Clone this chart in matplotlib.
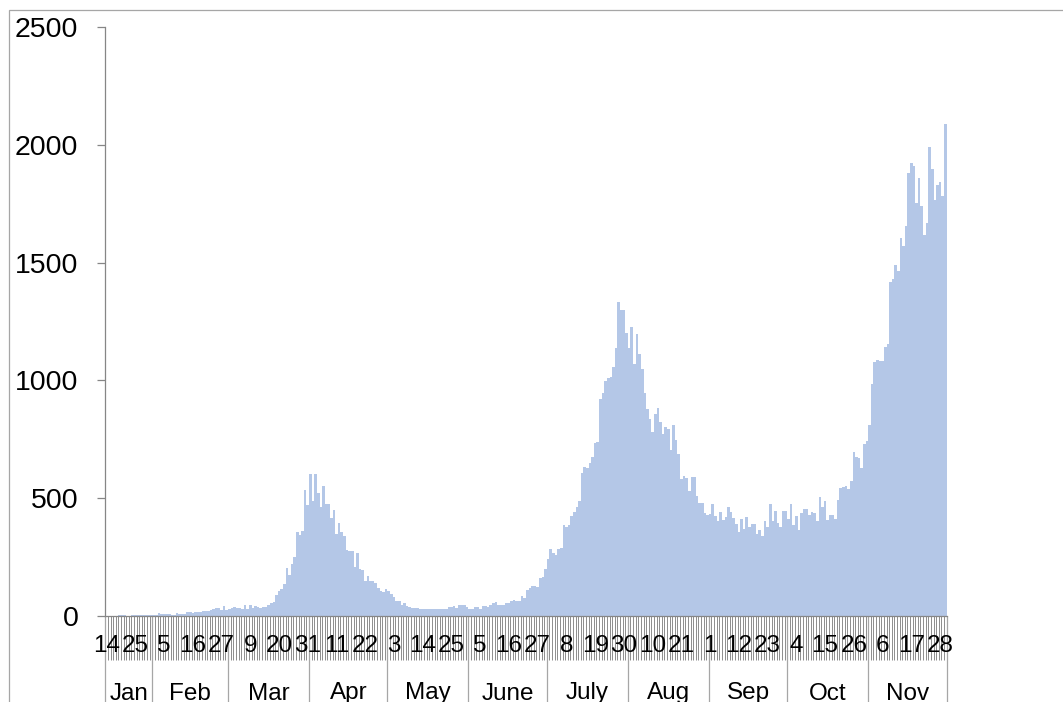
import numpy as np
import pandas as pd
import matplotlib
matplotlib.use("Agg")
import matplotlib.pyplot as plt
from matplotlib.patches import Rectangle

plt.rcParams['font.family'] = ['Liberation Sans', 'DejaVu Sans']

# ---- data: daily values, 14 Jan - 30 Nov 2020 ----
jan = [0, 0, 0, 0, 0, 1, 3, 1, 0, 0, 1, 1, 1, 1, 1, 2, 2, 4]
feb = [4, 4, 11, 6, 5, 6, 7, 4, 4, 10, 7, 6, 7, 16, 14, 13, 14, 17, 17, 20,
       21, 18, 25, 26, 31, 32, 24, 42, 25]
mar = [26, 31, 35, 34, 31, 30, 45, 28, 45, 31, 42, 35, 33, 36, 35, 45, 52, 57,
       89, 103, 113, 135, 203, 174, 220, 248, 354, 344, 361, 534, 470]
apr = [600, 489, 602, 521, 463, 551, 475, 475, 415, 449, 347, 395, 354, 340,
       279, 276, 274, 205, 268, 198, 194, 146, 167, 149, 146, 137, 116, 105,
       99, 113]
may = [103, 92, 81, 60, 60, 43, 52, 41, 38, 33, 34, 33, 30, 27, 28, 27, 27,
       28, 30, 30, 30, 30, 30, 38, 35, 41, 33, 43, 45, 47, 35]
jun = [30, 28, 38, 35, 28, 40, 41, 38, 47, 54, 58, 47, 44, 44, 52, 54, 64, 65,
       64, 61, 85, 74, 110, 116, 126, 126, 120, 159, 166, 198]
jul = [241, 281, 265, 259, 283, 288, 385, 378, 383, 425, 439, 461, 486, 605,
       633, 626, 648, 673, 733, 736, 921, 945, 996, 1010, 1013, 1056, 1138,
       1332, 1300, 1300, 1200]
aug = [1138, 1226, 1070, 1195, 1112, 1049, 947, 879, 836, 779, 855, 883, 822,
       770, 801, 794, 704, 812, 747, 685, 581, 592, 584, 529, 588, 591, 510,
       479, 478, 435, 428]
sep = [432, 475, 425, 401, 439, 407, 421, 463, 441, 415, 390, 354, 410, 366,
       421, 378, 390, 388, 347, 364, 339, 400, 378, 475, 404, 446, 395, 378,
       443, 446]
oct_ = [412, 475, 387, 425, 364, 435, 454, 454, 429, 442, 438, 401, 503, 463,
        485, 408, 428, 428, 410, 492, 543, 546, 550, 539, 571, 697, 676, 669,
        626, 730, 744]
nov = [812, 985, 1077, 1087, 1084, 1084, 1141, 1155, 1417, 1429, 1488, 1463,
       1604, 1570, 1655, 1881, 1925, 1910, 1753, 1861, 1739, 1618, 1670, 1991,
       1896, 1764, 1831, 1842, 1783, 2088]

month_names = ["Jan", "Feb", "Mar", "Apr", "May", "June", "July", "Aug",
               "Sep", "Oct", "Nov"]
month_values = [jan, feb, mar, apr, may, jun, jul, aug, sep, oct_, nov]

dates = pd.date_range("2020-01-14", "2020-11-30", freq="D")
values = np.concatenate([np.array(m, dtype=float) for m in month_values])
n = len(dates)
values = values[:n] if len(values) >= n else np.pad(values, (0, n - len(values)))
label_step = 11
yticks = [0, 500, 1000, 1500, 2000, 2500]

# ---- figure ----
W, H = 1063, 702
fig = plt.figure(figsize=(W / 100, H / 100), dpi=100)
left_px, right_px, top_px, bottom_px = 105.3, 946.6, 27.3, 615.6
ax = fig.add_axes([left_px / W, 1 - bottom_px / H,
                   (right_px - left_px) / W, (bottom_px - top_px) / H])

# outer chart-area border (cropped at right and bottom)
fig.patches.append(Rectangle((9 / W, -0.1), 1.2, 1 - 10 / H + 0.1,
                             transform=fig.transFigure, fill=False,
                             edgecolor="#a6a6a6", linewidth=0.9))

x = np.arange(n)
ax.bar(x, values, width=1.0, color="#b4c7e7", edgecolor="none", zorder=2)

ax.set_xlim(-0.5, n - 0.5)
ax.set_ylim(0, 2500)

axis_col = "#868686"
for s in ["top", "right"]:
    ax.spines[s].set_visible(False)
ax.spines["left"].set_color(axis_col)
ax.spines["bottom"].set_color(axis_col)
ax.spines["left"].set_linewidth(0.9)
ax.spines["bottom"].set_linewidth(0.9)

ax.set_yticks(yticks)
ax.set_yticklabels([str(v) for v in yticks], fontsize=20.5)
ax.tick_params(axis="y", length=5.8, width=0.9, color=axis_col, pad=13.5,
               direction="out")

# month boundaries (major ticks) & day ticks (minor)
months = dates.month.values
bounds = [-0.5] + [i - 0.5 for i in range(1, n) if months[i] != months[i - 1]] + [n - 0.5]
ax.set_xticks(bounds)
ax.set_xticklabels([""] * len(bounds))
ax.set_xticks(np.arange(-0.5, n, 1.0), minor=True)
ax.tick_params(axis="x", which="major", length=75, width=0.9, color="#a6a6a6",
               direction="out")
ax.tick_params(axis="x", which="minor", length=32, width=0.62, color="#7f7f7f",
               direction="out")

trans = ax.get_xaxis_transform()
px_to_ax = 1.0 / (bottom_px - top_px)
day_base = -(652.5 - bottom_px) * px_to_ax
for i in range(0, n, label_step):
    ax.text(i, day_base, str(dates[i].day), transform=trans, ha="center",
            va="baseline", fontsize=17.5, color="black", clip_on=False)

month_base = -(699.5 - bottom_px) * px_to_ax
for k, name in enumerate(month_names):
    c = (bounds[k] + bounds[k + 1]) / 2
    ax.text(c, month_base, name, transform=trans, ha="center", va="baseline",
            fontsize=17.5, color="black", clip_on=False)

fig.savefig("out.png", dpi=100)
